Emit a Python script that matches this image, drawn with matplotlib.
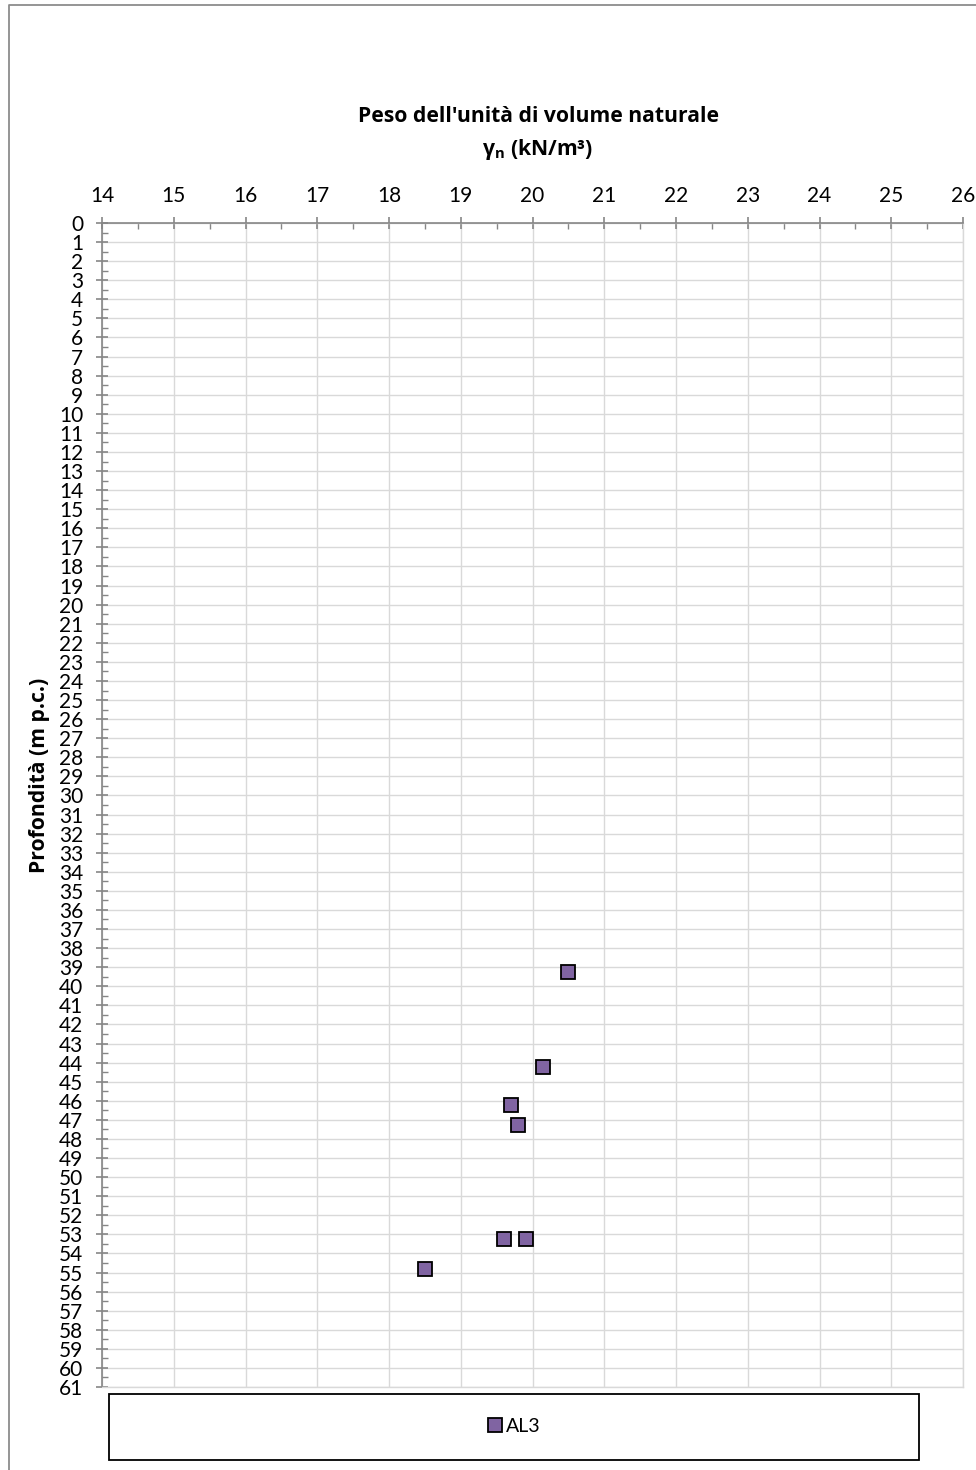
import matplotlib
matplotlib.use("Agg")
import matplotlib.pyplot as plt
from matplotlib.lines import Line2D
from matplotlib.patches import Rectangle
from matplotlib.ticker import MultipleLocator

# data
gamma_n = [20.49, 20.15, 19.70, 19.80, 19.60, 19.91, 18.50]
depth = [39.24, 44.22, 46.20, 47.26, 53.24, 53.24, 54.80]
series_name = "AL3"
x_ticks = list(range(14, 27))
y_ticks = list(range(0, 62))

plt.rcParams['font.family'] = ['Lato', 'DejaVu Sans']
plt.rcParams['mathtext.fontset'] = 'custom'
plt.rcParams['mathtext.rm'] = 'Open Sans'
plt.rcParams['mathtext.bf'] = 'Open Sans:bold'

fig = plt.figure(figsize=(9.76, 14.7), dpi=100)
W, H = 976.0, 1470.0

# axes placement in pixels
left, right, top, bottom = 102, 963, 223, 1387
ax = fig.add_axes([left / W, 1 - bottom / H, (right - left) / W, (bottom - top) / H])

grid_col = "#d9d9d9"
axis_col = "#868686"

ax.set_xlim(14, 26)
ax.set_ylim(61, 0)
ax.set_xticks(x_ticks)
ax.set_yticks(y_ticks)
ax.xaxis.set_minor_locator(MultipleLocator(0.5))
ax.yaxis.set_minor_locator(MultipleLocator(0.5))
ax.xaxis.tick_top()
ax.grid(True, which='major', color=grid_col, linewidth=1.0)
ax.set_axisbelow(True)

for s in ['right', 'bottom']:
    ax.spines[s].set_color(grid_col)
    ax.spines[s].set_linewidth(1.0)
for s in ['left', 'top']:
    ax.spines[s].set_color(axis_col)
    ax.spines[s].set_linewidth(1.2)

ax.tick_params(axis='x', which='major', direction='inout', length=9, width=1.2,
               color=axis_col, labelsize=15, pad=8, top=True, bottom=False)
ax.tick_params(axis='x', which='minor', direction='in', length=4, width=1.0,
               color=axis_col, top=True, bottom=False)
ax.tick_params(axis='y', which='major', direction='inout', length=9, width=1.2,
               color=axis_col, labelsize=15, pad=9)
ax.tick_params(axis='y', which='minor', direction='in', length=4, width=1.0,
               color=axis_col)

ax.plot(gamma_n, depth, linestyle='none', marker='s', markersize=10.5,
        markerfacecolor='#8064a2', markeredgecolor='black', markeredgewidth=1.3,
        label=series_name, clip_on=False, zorder=5)

# titles
bold_font = ['Open Sans', 'DejaVu Sans']
fig.text(538 / W, 1 - 116 / H, "Peso dell'unità di volume naturale",
         ha='center', va='center', fontsize=15.2, fontweight='bold', family=bold_font)
fig.text(538 / W, 1 - 150 / H, r"$\mathbf{\gamma_{n}}$ (kN/m³)",
         ha='center', va='center', fontsize=15.2, fontweight='bold', family=bold_font)
fig.text(40 / W, 1 - 775 / H, "Profondità (m p.c.)", rotation=90,
         ha='center', va='center', fontsize=15.2, fontweight='bold', family=bold_font)

# legend box
lx0, lx1, ly0, ly1 = 109, 919, 1394, 1460
fig.patches.append(Rectangle((lx0 / W, 1 - ly1 / H), (lx1 - lx0) / W, (ly1 - ly0) / H,
                             transform=fig.transFigure, fill=False,
                             edgecolor='black', linewidth=1.3))
handles, labels = ax.get_legend_handles_labels()
fig.legend(handles, labels, loc='center',
           bbox_to_anchor=((lx0 + lx1) / 2 / W, 1 - 1426 / H),
           frameon=False, fontsize=14, markerscale=0.95, handlelength=0.8,
           handletextpad=0.15)

# outer chart border (top and left only visible)
fig.lines.append(Line2D([9 / W, 9 / W, 1.0], [0.0, 1 - 5 / H, 1 - 5 / H],
                        transform=fig.transFigure, color='#8c8c8c', linewidth=1.3))

fig.savefig("out.png", dpi=100)
